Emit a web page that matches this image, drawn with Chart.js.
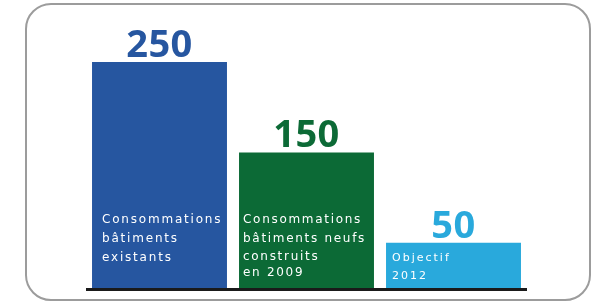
<!DOCTYPE html>
<html>
<head>
<meta charset="utf-8">
<script src="https://cdn.jsdelivr.net/npm/chart.js@4"></script>
<style>
  html, body { margin: 0; padding: 0; background: #fff; }
  #frame {
    position: absolute; left: 25px; top: 3px; width: 562px; height: 294px;
    border: 2px solid #9c9c9c; border-radius: 26px;
  }
  #wrap { position: absolute; left: 0; top: 0; width: 596px; height: 301px; }
</style>
</head>
<body>
<div id="frame"></div>
<div id="wrap"><canvas id="grafico" width="596" height="301"></canvas></div>
<script>
const categories = [
  ['Consommations', 'bâtiments', 'existants'],
  ['Consommations', 'bâtiments neufs', 'construits', 'en 2009'],
  ['Objectif', '2012']
];
const valeurs = [250, 150, 50];
const couleurs = ['#2656a0', '#0c6a36', '#29a9dc'];

// textes et nombres dessinés par-dessus les barres
const etiquettes = {
  id: 'etiquettes',
  afterDatasetsDraw(chart) {
    const ctx = chart.ctx;
    const meta = chart.getDatasetMeta(0);
    const decal = [10, 4, 6];
    const lignes = [[220, 239, 258], [220, 239, 257, 273], [258, 276]];
    const tailles = [12, 12, 11];
    const espaces = ['1.8px', '1.7px', '2px'];
    ctx.save();
    meta.data.forEach((bar, i) => {
      const gauche = bar.x - bar.width / 2;
      // valeur au-dessus
      ctx.fillStyle = couleurs[i];
      ctx.font = 'bold 38px "Open Sans"';
      ctx.textAlign = 'center';
      ctx.textBaseline = 'alphabetic';
      ctx.letterSpacing = '0.5px';
      ctx.fillText(String(valeurs[i]), bar.x, bar.y - 5);
      // libellé dans la barre
      ctx.fillStyle = '#ffffff';
      ctx.font = tailles[i] + 'px "DejaVu Sans"';
      ctx.textAlign = 'left';
      ctx.textBaseline = 'middle';
      ctx.letterSpacing = espaces[i];
      categories[i].forEach((txt, k) => {
        ctx.fillText(txt, gauche + decal[i], lignes[i][k]);
      });
    });
    // ligne de base
    const y0 = chart.scales.y.getPixelForValue(0);
    ctx.strokeStyle = '#1a1a1a';
    ctx.lineWidth = 3;
    ctx.beginPath();
    ctx.moveTo(chart.chartArea.left, y0 + 1.5);
    ctx.lineTo(chart.chartArea.right, y0 + 1.5);
    ctx.stroke();
    ctx.restore();
  }
};

const ctx = document.getElementById('grafico').getContext('2d');
const chart = new Chart(ctx, {
  type: 'bar',
  data: {
    labels: categories.map(c => c.join(' ')),
    datasets: [{
      data: valeurs,
      backgroundColor: couleurs,
      borderWidth: 0,
      barPercentage: 0.918,
      categoryPercentage: 1.0
    }]
  },
  options: {
    responsive: false,
    animation: false,
    layout: { padding: { left: 86, right: 69, top: 62, bottom: 13 } },
    plugins: { legend: { display: false }, tooltip: { enabled: false } },
    scales: {
      x: { display: false },
      y: { display: false, min: 0, max: 250 }
    }
  },
  plugins: [etiquettes]
});
</script>
</body>
</html>
